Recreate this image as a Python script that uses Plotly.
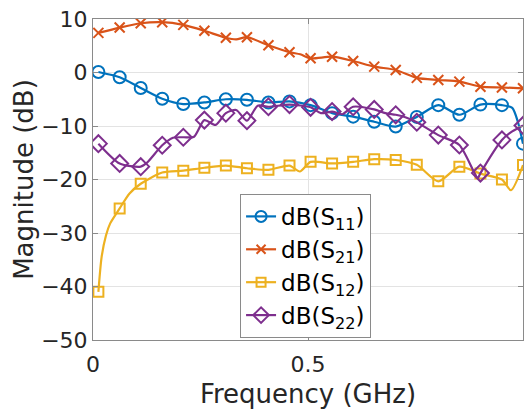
import plotly.graph_objects as go

# marker frequencies (GHz)
f_mk = [0.0125, 0.062, 0.111, 0.161, 0.210, 0.259, 0.309, 0.358, 0.408, 0.457, 0.506,
        0.556, 0.605, 0.654, 0.704, 0.753, 0.803, 0.852, 0.901, 0.951, 1.0]

s11_mk = [0.1, -0.9, -2.9, -4.9, -5.9, -5.6, -5.0, -5.1, -5.6, -5.4, -6.1,
          -7.6, -8.25, -9.2, -10.1, -8.3, -6.1, -7.9, -6.0, -6.1, -13.3]
s21_mk = [7.4, 8.4, 9.2, 9.4, 8.9, 7.8, 6.5, 6.6, 5.1, 3.8, 2.65,
          2.95, 2.15, 1.1, 0.47, -1.0, -1.4, -1.7, -2.65, -2.8, -2.95]
s12_mk = [-41.0, -25.4, -20.8, -18.7, -18.35, -17.8, -17.4, -17.9, -18.2, -17.4, -16.7,
          -17.0, -16.7, -16.2, -16.35, -17.25, -20.35, -17.6, -18.9, -20.0, -17.3]
s22_mk = [-13.3, -17.0, -17.6, -13.6, -12.1, -8.9, -7.6, -9.0, -6.4, -6.0, -6.5,
          -7.3, -6.4, -6.9, -7.9, -9.3, -11.7, -13.55, -18.8, -12.6, -9.9]

# extra in-between line points (frequency, value)
s11_extra_f = [0.975, 0.988]
s11_extra_v = [-6.6, -9.2]
s21_extra_f = [0.333, 0.482]
s21_extra_v = [6.2, 3.4]
s12_extra_f = [0.02, 0.03, 0.04, 0.085, 0.481, 0.972]
s12_extra_v = [-34.5, -30.5, -28.2, -22.6, -18.5, -22.0]
s22_extra_f = [0.125, 0.186, 0.235, 0.285, 0.333, 0.383, 0.53, 0.58, 0.68, 0.728, 0.895, 0.975]
s22_extra_v = [-16.9, -12.2, -12.0, -9.8, -7.0, -6.2, -7.6, -7.8, -7.6, -8.4, -19.7, -11.0]

names = ["dB(S<sub>11</sub>)", "dB(S<sub>21</sub>)", "dB(S<sub>12</sub>)", "dB(S<sub>22</sub>)"]
colors = ["#0072BD", "#D95319", "#EDB120", "#7E2F8E"]
symbols = ["circle-open", "x-thin-open", "square-open", "diamond-open"]
msizes = [12, 10, 10, 13]


def merged(fm, vm, fe, ve):
    pts = sorted(list(zip(fm, vm)) + list(zip(fe, ve)))
    return [p[0] for p in pts], [p[1] for p in pts]


series = [
    (s11_mk, s11_extra_f, s11_extra_v),
    (s21_mk, s21_extra_f, s21_extra_v),
    (s12_mk, s12_extra_f, s12_extra_v),
    (s22_mk, s22_extra_f, s22_extra_v),
]

fig = go.Figure()
for i, (mk, ef, ev) in enumerate(series):
    fx, fy = merged(f_mk, mk, ef, ev)
    fig.add_trace(go.Scatter(x=fx, y=fy, mode="lines",
                             line=dict(color=colors[i], width=2.2, shape="spline", smoothing=0.7),
                             showlegend=False, hoverinfo="skip"))
    fig.add_trace(go.Scatter(x=f_mk, y=mk, mode="markers",
                             marker=dict(symbol=symbols[i], size=msizes[i], color=colors[i],
                                         line=dict(width=2, color=colors[i])),
                             showlegend=False))
    fig.add_trace(go.Scatter(x=[None], y=[None], mode="lines+markers", name=names[i],
                             line=dict(color=colors[i], width=2.2),
                             marker=dict(symbol=symbols[i], size=msizes[i] - 1, color=colors[i],
                                         line=dict(width=2, color=colors[i]))))

axis_common = dict(
    showgrid=True, gridcolor="#e3e3e3", gridwidth=1,
    showline=True, linecolor="#8a8a8a", linewidth=1, mirror="ticks",
    ticks="inside", ticklen=5, tickcolor="#8a8a8a",
    zeroline=False, automargin=False,
    tickfont=dict(family="DejaVu Sans", size=22, color="#262626"),
)

fig.update_layout(
    width=529, height=409,
    margin=dict(l=93, r=6, t=19, b=69),
    paper_bgcolor="white", plot_bgcolor="white",
    font=dict(family="DejaVu Sans", color="#262626"),
    xaxis=dict(range=[0, 1], tickvals=[0, 0.5, 1], ticktext=["0", "0.5", "1"],
               ticklabelstandoff=5,
               title=dict(text="Frequency (GHz)", font=dict(size=26, color="#262626")),
               **axis_common),
    yaxis=dict(range=[-50, 10], tickvals=[-50, -40, -30, -20, -10, 0, 10],
               title=dict(text="Magnitude (dB)", font=dict(size=26, color="#262626"), standoff=0),
               **axis_common),
    legend=dict(x=0.342, y=0.455, xanchor="left", yanchor="top",
                bgcolor="white", bordercolor="#8a8a8a", borderwidth=1,
                font=dict(family="DejaVu Sans", size=23, color="#000000"),
                tracegroupgap=0, itemwidth=30),
    showlegend=True,
)

fig.write_html("out.html")
